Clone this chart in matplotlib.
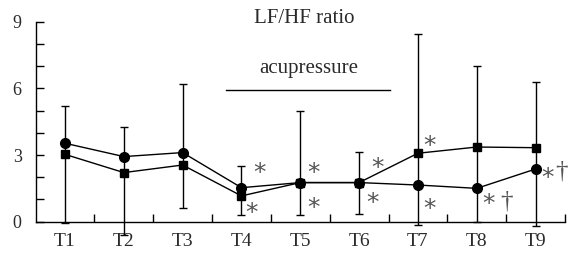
import matplotlib
matplotlib.use("Agg")
import matplotlib.pyplot as plt
import numpy as np

# ---- data ----
time_labels = ["T1", "T2", "T3", "T4", "T5", "T6", "T7", "T8", "T9"]
circle_vals = [3.53, 2.93, 3.11, 1.53, 1.76, 1.76, 1.65, 1.50, 2.37]
square_vals = [3.03, 2.21, 2.55, 1.16, 1.76, 1.76, 3.08, 3.36, 3.33]
err_upper = [5.21, 4.28, 6.19, 2.51, 5.00, 3.12, 8.45, 7.01, 6.28]
err_lower = [-0.07, -0.60, 0.63, 0.30, 0.30, 0.35, -0.15, 0.00, -0.19]
y_major = [0, 3, 6, 9]
title_text = "LF/HF ratio"
period_text = "acupressure"
period_span = [3.74, 6.53]
period_level = 5.93
# significance marks: (time index, series, label, dx px, dy px to glyph centre)
marks = [
    (3, "c", "*", 18, 21), (3, "s", "*", 10, -11),
    (4, "c", "*", 13, 16), (4, "c", "*", 13, -19),
    (5, "c", "*", 18, 21), (5, "c", "*", 13, -14),
    (6, "s", "*", 12, 13), (6, "c", "*", 12, -18),
    (7, "c", "*", 12, -10), (7, "c", "†", 30, -12),
    (8, "c", "*", 12, -3), (8, "c", "†", 26, -1),
]

plt.rcParams['font.family'] = ['Liberation Serif', 'DejaVu Serif']
text_color = "#2a2a2a"

fig = plt.figure(figsize=(5.71, 2.57), dpi=100)
ax = fig.add_axes([0.0623, 0.1374, 0.9272, 0.7782])

x = np.arange(1, len(time_labels) + 1)
circ = np.array(circle_vals)
sq = np.array(square_vals)
lo = np.array(err_lower)
hi = np.array(err_upper)

ax.errorbar(x, circ, yerr=[circ - lo, hi - circ], fmt='none', ecolor='black',
            elinewidth=1.0, capsize=3, capthick=1.0, clip_on=False, zorder=2)
ax.plot(x, sq, color='black', lw=1.0, marker='s', markersize=6, clip_on=False, zorder=3)
ax.plot(x, circ, color='black', lw=1.0, marker='o', markersize=7, clip_on=False, zorder=4)

ax.set_xlim(0.5, 9.5)
ax.set_ylim(0, 9)
ax.spines['top'].set_visible(False)
ax.spines['right'].set_visible(False)
for s in ['left', 'bottom']:
    ax.spines[s].set_linewidth(1.0)

ax.set_xticks(x)
ax.set_xticklabels(time_labels, fontsize=14, color=text_color)
ax.set_xticks(np.arange(1.5, 9.6, 1.0), minor=True)
ax.tick_params(axis='x', which='major', length=0, pad=8)
ax.tick_params(axis='x', which='minor', direction='in', length=6, width=1.0)

ax.set_yticks(y_major)
ax.set_yticklabels([str(v) for v in y_major], fontsize=13, color=text_color)
ax.set_yticks(np.arange(0, 10, 1), minor=True)
ax.tick_params(axis='y', which='both', direction='in', length=6, width=1.0, pad=10)

ax.text(5.06, 8.92, title_text, ha='center', va='baseline', fontsize=15,
        color=text_color, clip_on=False)
ax.text(5.14, 6.70, period_text, ha='center', va='baseline', fontsize=15,
        color=text_color)
ax.plot(period_span, [period_level, period_level], color='black', lw=1.0)

for idx, ser, lab, dx, dy in marks:
    yv = circ[idx] if ser == "c" else sq[idx]
    if lab == "*":
        fam = ['DejaVu Sans']
        fs = 18
        shift = 13
    else:
        fam = ['Liberation Serif']
        fs = 18
        shift = 7
    ax.annotate(lab, xy=(x[idx], yv), xytext=(dx, dy - shift), textcoords='offset pixels',
                ha='center', va='baseline', fontsize=fs,
                color='#555555', family=fam, annotation_clip=False)

fig.savefig("out.png", dpi=100)
